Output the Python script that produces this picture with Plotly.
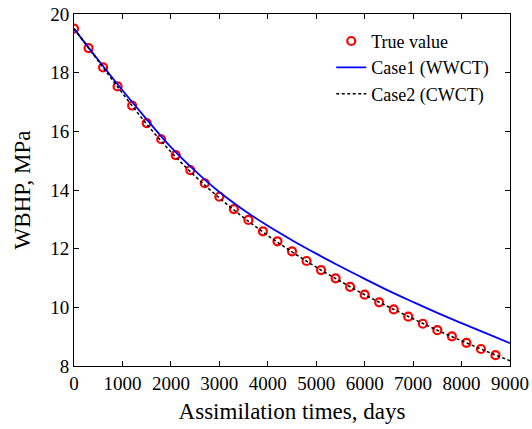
import plotly.graph_objects as go

# True value markers (every 300 days)
true_days = [0, 300, 600, 900, 1200, 1500, 1800, 2100, 2400, 2700, 3000, 3300, 3600, 3900, 4200,
             4500, 4800, 5100, 5400, 5700, 6000, 6300, 6600, 6900, 7200, 7500, 7800, 8100, 8400, 8700]
true_wbhp = [19.5, 18.84, 18.18, 17.53, 16.88, 16.28, 15.73, 15.19, 14.68, 14.23, 13.77, 13.35, 12.98, 12.59, 12.25,
             11.91, 11.58, 11.27, 10.99, 10.70, 10.43, 10.17, 9.93, 9.68, 9.44, 9.22, 9.01, 8.79, 8.58, 8.37]

# Model curves (every 500 days)
curve_days = [0, 500, 1000, 1500, 2000, 2500, 3000, 3500, 4000, 4500,
              5000, 5500, 6000, 6500, 7000, 7500, 8000, 8500, 9000]
case1_wwct = [19.5, 18.43, 17.40, 16.41, 15.46, 14.65, 13.93, 13.32, 12.78, 12.29,
              11.83, 11.39, 10.97, 10.56, 10.18, 9.81, 9.46, 9.12, 8.78]
case2_cwct = [19.5, 18.40, 17.30, 16.25, 15.30, 14.47, 13.73, 13.06, 12.45, 11.89,
              11.37, 10.89, 10.43, 10.01, 9.61, 9.22, 8.86, 8.51, 8.18]

x_ticks = [0, 1000, 2000, 3000, 4000, 5000, 6000, 7000, 8000, 9000]
y_ticks = [8, 10, 12, 14, 16, 18, 20]

FONT = "Liberation Serif"

fig = go.Figure()
fig.add_trace(go.Scatter(
    x=true_days, y=true_wbhp, mode="markers", name="True value",
    marker=dict(symbol="circle-open", size=8, color="#ff0000", line=dict(width=2.2, color="#ff0000")),
))
fig.add_trace(go.Scatter(
    x=curve_days, y=case1_wwct, mode="lines", name="Case1 (WWCT)",
    line=dict(color="#0000ff", width=1.8, shape="spline", smoothing=1.0),
))
fig.add_trace(go.Scatter(
    x=curve_days, y=case2_cwct, mode="lines", name="Case2 (CWCT)",
    line=dict(color="#000000", width=1.5, dash="3px,2.5px", shape="spline", smoothing=1.0),
))

axis_common = dict(
    showgrid=False, zeroline=False, showline=True, linecolor="black", linewidth=1,
    mirror="ticks", ticks="inside", ticklen=5, tickcolor="black", automargin=False,
    tickfont=dict(family=FONT, size=19, color="black"),
)

fig.update_layout(
    width=532, height=429,
    margin=dict(l=74, r=22, t=14, b=63),
    paper_bgcolor="white", plot_bgcolor="white",
    font=dict(family=FONT, color="black"),
    xaxis=dict(range=[0, 9000], tickvals=x_ticks, ticktext=[str(v) for v in x_ticks],
               title=dict(text="Assimilation times, days", font=dict(family=FONT, size=23), standoff=10),
               **axis_common),
    yaxis=dict(range=[8, 20], tickvals=y_ticks, ticktext=[str(v) for v in y_ticks],
               title=dict(text="WBHP, MPa", font=dict(family=FONT, size=23), standoff=13),
               **axis_common),
    legend=dict(x=0.59, y=0.975, xanchor="left", yanchor="top",
                bgcolor="rgba(0,0,0,0)", borderwidth=0,
                font=dict(family=FONT, size=18, color="black"),
                tracegroupgap=0),
    showlegend=True,
)

fig.write_html("out.html", config={"displayModeBar": False},
               post_script="document.body.style.margin='0';")
